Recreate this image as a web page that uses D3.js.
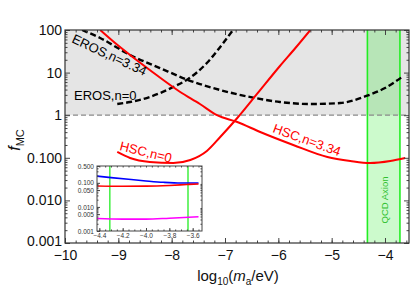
<!DOCTYPE html>
<html>
<head>
<meta charset="utf-8">
<script src="https://cdn.jsdelivr.net/npm/d3@7"></script>
<style>
body { margin: 0; background: #fff; }
svg { display: block; font-family: "Liberation Sans", Arial, sans-serif; }
</style>
</head>
<body>
<div id="chart"></div>
<script>
// main panel ticks
var xTicks = [-10, -9, -8, -7, -6, -5, -4];
var yTicks = [0.001, 0.01, 0.1, 1, 10, 100];
var yTickLabels = ["0.001", "0.010", "0.100", "1", "10", "100"];

// shaded (excluded) f_MC range and QCD axion mass band
var shadeRange = [1, 100];
var qcdBand = [-4.33, -3.72];

// [log10(m_a/eV), f_MC]
var erosN334 = [[-9.68,100],[-9.34,64.9],[-8.78,25.9],[-8.22,12.8],[-7.69,6.7],[-7.09,3.9],[-6.44,2.54],[-5.97,2.04],[-5.40,1.83],[-4.84,1.93],[-4.35,2.83],[-4.0,4.34],[-3.68,7.9]];
var erosN0 = [[-9.02,1.83],[-8.78,2.04],[-8.41,2.68],[-7.97,4.59],[-7.69,7.08],[-7.34,16.8],[-7.09,39.9],[-6.85,100]];
var hscN0 = [[-9.02,0.137],[-8.78,0.099],[-8.41,0.080],[-7.97,0.0755],[-7.65,0.089],[-7.34,0.145],[-7.09,0.308],[-6.77,0.86],[-6.40,3.15],[-5.97,14.3],[-5.68,37.8],[-5.40,100]];
var hscN334 = [[-9.34,100],[-9.06,49.5],[-8.78,25.9],[-8.41,11.5],[-7.84,3.51],[-7.47,1.83],[-7.15,1.0],[-6.77,0.692],[-6.34,0.403],[-5.72,0.200],[-5.08,0.104],[-4.65,0.0841],[-4.28,0.0755],[-3.90,0.0841],[-3.62,0.0989]];

// inset
var insetXTicks = [-4.4, -4.2, -4.0, -3.8, -3.6];
var insetYTicks = [0.001, 0.005, 0.01, 0.05, 0.1, 0.5];
var insetYTickLabels = ["0.001", "0.005", "0.010", "0.050", "0.100", "0.500"];
var insetBand = [-4.31, -3.64];
var insetBlue = [[-4.42,0.19],[-4.3,0.165],[-4.15,0.14],[-4.0,0.12],[-3.85,0.105],[-3.7,0.098],[-3.55,0.098]];
var insetRed = [[-4.42,0.074],[-4.2,0.072],[-4.0,0.073],[-3.8,0.078],[-3.65,0.085],[-3.55,0.09]];
var insetMagenta = [[-4.42,0.0033],[-4.2,0.0031],[-4.0,0.0031],[-3.8,0.0034],[-3.55,0.0039]];

var W = 415, H = 292;
var svg = d3.select("#chart").append("svg").attr("width", W).attr("height", H);

var x = d3.scaleLinear().domain([-10, -3.55]).range([65, 409]);
var y = d3.scaleLog().domain([0.001, 100]).range([243, 30]);

svg.append("clipPath").attr("id", "clipMain")
  .append("rect").attr("x", 65).attr("y", 30).attr("width", 344).attr("height", 213);

var plot = svg.append("g").attr("clip-path", "url(#clipMain)");

// gray shaded region
plot.append("rect")
  .attr("x", 65).attr("width", 344)
  .attr("y", y(shadeRange[1])).attr("height", y(shadeRange[0]) - y(shadeRange[1]))
  .attr("fill", "#e5e5e5");

// green QCD axion band
plot.append("rect")
  .attr("x", x(qcdBand[0])).attr("width", x(qcdBand[1]) - x(qcdBand[0]))
  .attr("y", 30).attr("height", 213)
  .attr("fill", "rgba(0,230,0,0.2)");
plot.selectAll(".bandline").data(qcdBand).enter().append("line")
  .attr("x1", function (d) { return x(d); }).attr("x2", function (d) { return x(d); })
  .attr("y1", 30).attr("y2", 243)
  .attr("stroke", "#22ee22").attr("stroke-width", 1.6);

// f_MC = 1 line
plot.append("line")
  .attr("x1", 65).attr("x2", 409).attr("y1", y(1)).attr("y2", y(1))
  .attr("stroke", "#8a8a8a").attr("stroke-width", 1.2).attr("stroke-dasharray", "5,3");

var line = d3.line()
  .x(function (d) { return x(d[0]); })
  .y(function (d) { return y(d[1]); })
  .curve(d3.curveMonotoneX);

plot.append("path").datum(erosN334).attr("d", line)
  .attr("fill", "none").attr("stroke", "#000").attr("stroke-width", 2.4).attr("stroke-dasharray", "6,3");
plot.append("path").datum(erosN0).attr("d", line)
  .attr("fill", "none").attr("stroke", "#000").attr("stroke-width", 2.4).attr("stroke-dasharray", "6,3");
plot.append("path").datum(hscN0).attr("d", line)
  .attr("fill", "none").attr("stroke", "#ff0000").attr("stroke-width", 2);
plot.append("path").datum(hscN334).attr("d", line)
  .attr("fill", "none").attr("stroke", "#ff0000").attr("stroke-width", 2);

// curve labels
function label(txt, px, py, ang, col) {
  svg.append("text").attr("transform", "translate(" + px + "," + py + ") rotate(" + ang + ")")
    .attr("font-size", 13).attr("fill", col).text(txt);
}
label("EROS,n=3.34", 71, 42, 25, "#000");
label("EROS,n=0", 74, 100, 0, "#000");
label("HSC,n=0", 119, 150, 14, "#ff0000");
label("HSC,n=3.34", 272, 132, 20, "#ff0000");

svg.append("text")
  .attr("transform", "translate(" + ((x(qcdBand[0]) + x(qcdBand[1])) / 2 + 1) + ",200) rotate(-90)")
  .attr("text-anchor", "middle").attr("dominant-baseline", "central")
  .attr("font-size", 9.5).attr("fill", "#2fbf2f").text("QCD Axion");

// axes (ticks point inward)
var tickCol = "#444";
function minorLog(lo, hi) {
  var out = [];
  for (var e = lo; e < hi; e++) for (var k = 2; k <= 9; k++) out.push(k * Math.pow(10, e));
  return out;
}
var xMinor = d3.range(-10, -3.55, 0.2);
var yMinor = minorLog(-3, 2);

function styleAxis(g) {
  g.select(".domain").remove();
  g.selectAll("line").attr("stroke", tickCol);
}

svg.append("g").attr("transform", "translate(0,243)")
  .call(d3.axisBottom(x).tickValues(xTicks).tickFormat(d3.format("d")).tickSize(-5).tickPadding(7))
  .call(styleAxis)
  .selectAll("text").attr("font-size", 14).attr("fill", "#111").style("font-family", "Liberation Sans, Arial, sans-serif");
svg.append("g").attr("transform", "translate(0,243)")
  .call(d3.axisBottom(x).tickValues(xMinor).tickFormat("").tickSize(-2.5)).call(styleAxis);
svg.append("g").attr("transform", "translate(0,30)")
  .call(d3.axisTop(x).tickValues(xTicks).tickFormat("").tickSize(-5)).call(styleAxis);
svg.append("g").attr("transform", "translate(0,30)")
  .call(d3.axisTop(x).tickValues(xMinor).tickFormat("").tickSize(-2.5)).call(styleAxis);

svg.append("g").attr("transform", "translate(65,0)")
  .call(d3.axisLeft(y).tickValues(yTicks).tickFormat(function (d, i) { return yTickLabels[i]; }).tickSize(-5).tickPadding(3))
  .call(styleAxis)
  .selectAll("text").attr("font-size", 14).attr("fill", "#111").style("font-family", "Liberation Sans, Arial, sans-serif")
  .attr("dy", function (d) { return d === 0.001 ? "0.18em" : "0.32em"; });
svg.append("g").attr("transform", "translate(65,0)")
  .call(d3.axisLeft(y).tickValues(yMinor).tickFormat("").tickSize(-2.5)).call(styleAxis);
svg.append("g").attr("transform", "translate(409,0)")
  .call(d3.axisRight(y).tickValues(yTicks).tickFormat("").tickSize(-5)).call(styleAxis);
svg.append("g").attr("transform", "translate(409,0)")
  .call(d3.axisRight(y).tickValues(yMinor).tickFormat("").tickSize(-2.5)).call(styleAxis);

svg.append("rect").attr("x", 65).attr("y", 30).attr("width", 344).attr("height", 213)
  .attr("fill", "none").attr("stroke", "#333").attr("stroke-width", 1.2);

// axis titles
var yl = svg.append("text").attr("transform", "translate(20,140) rotate(-90)")
  .attr("text-anchor", "middle").attr("font-size", 16).attr("fill", "#111");
yl.append("tspan").attr("font-style", "italic").text("f");
yl.append("tspan").attr("font-size", 11).attr("dy", 4).text("MC");

var xl = svg.append("text").attr("x", 238).attr("y", 281)
  .attr("text-anchor", "middle").attr("font-size", 15).attr("fill", "#111");
xl.append("tspan").text("log");
xl.append("tspan").attr("font-size", 10).attr("dy", 4).text("10");
xl.append("tspan").attr("dy", -4).text("(");
xl.append("tspan").attr("font-style", "italic").text("m");
xl.append("tspan").attr("font-size", 10).attr("dy", 4).text("a");
xl.append("tspan").attr("dy", -4).text("/eV)");

// ---- inset ----
var ix = d3.scaleLinear().domain([-4.42, -3.52]).range([97, 202]);
var iy = d3.scaleLog().domain([0.001, 0.5]).range([231, 166]);

svg.append("rect").attr("x", 97).attr("y", 166).attr("width", 105).attr("height", 65).attr("fill", "#fff");
svg.append("clipPath").attr("id", "clipInset")
  .append("rect").attr("x", 97).attr("y", 166).attr("width", 105).attr("height", 65);
var inset = svg.append("g").attr("clip-path", "url(#clipInset)");

inset.selectAll(".ib").data(insetBand).enter().append("line")
  .attr("x1", function (d) { return ix(d); }).attr("x2", function (d) { return ix(d); })
  .attr("y1", 166).attr("y2", 231)
  .attr("stroke", "#33ee33").attr("stroke-width", 1.4);

var iline = d3.line()
  .x(function (d) { return ix(d[0]); })
  .y(function (d) { return iy(d[1]); })
  .curve(d3.curveMonotoneX);
inset.append("path").datum(insetBlue).attr("d", iline).attr("fill", "none").attr("stroke", "#0000ff").attr("stroke-width", 1.6);
inset.append("path").datum(insetRed).attr("d", iline).attr("fill", "none").attr("stroke", "#ff0000").attr("stroke-width", 1.6);
inset.append("path").datum(insetMagenta).attr("d", iline).attr("fill", "none").attr("stroke", "#ff00ff").attr("stroke-width", 1.6);

var ixMinor = d3.range(-4.4, -3.52, 0.05);
var iyMinor = minorLog(-3, 0).filter(function (d) { return d <= 0.5; });

function smallText(sel) {
  sel.selectAll("text").attr("font-size", 6.5).attr("fill", "#333").style("font-family", "Liberation Sans, Arial, sans-serif");
}
svg.append("g").attr("transform", "translate(0,231)")
  .call(d3.axisBottom(ix).tickValues(insetXTicks).tickFormat(d3.format(".1f")).tickSize(-3).tickPadding(2))
  .call(styleAxis).call(smallText);
svg.append("g").attr("transform", "translate(0,231)")
  .call(d3.axisBottom(ix).tickValues(ixMinor).tickFormat("").tickSize(-1.5)).call(styleAxis);
svg.append("g").attr("transform", "translate(0,166)")
  .call(d3.axisTop(ix).tickValues(ixMinor).tickFormat("").tickSize(-1.5)).call(styleAxis);
svg.append("g").attr("transform", "translate(97,0)")
  .call(d3.axisLeft(iy).tickValues(insetYTicks).tickFormat(function (d, i) { return insetYTickLabels[i]; }).tickSize(-3).tickPadding(3))
  .call(styleAxis).call(smallText);
svg.append("g").attr("transform", "translate(97,0)")
  .call(d3.axisLeft(iy).tickValues(iyMinor).tickFormat("").tickSize(-1.5)).call(styleAxis);
svg.append("g").attr("transform", "translate(202,0)")
  .call(d3.axisRight(iy).tickValues(iyMinor).tickFormat("").tickSize(-1.5)).call(styleAxis);

svg.append("rect").attr("x", 97).attr("y", 166).attr("width", 105).attr("height", 65)
  .attr("fill", "none").attr("stroke", "#444").attr("stroke-width", 1);
</script>
</body>
</html>
